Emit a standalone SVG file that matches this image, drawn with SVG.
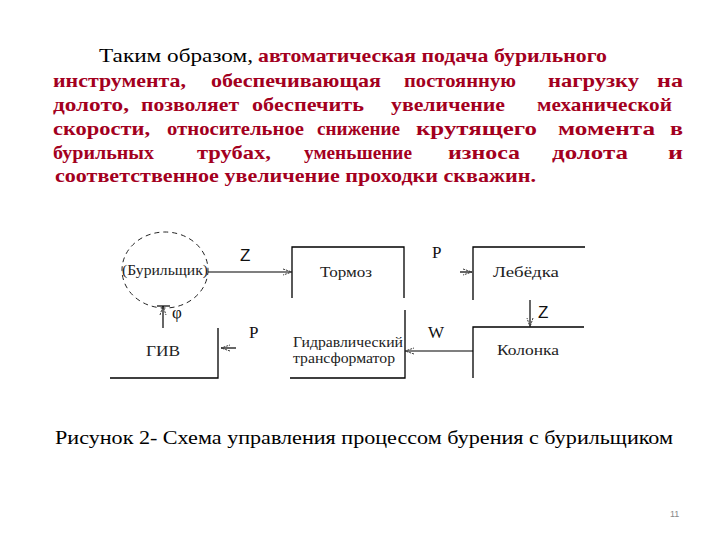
<svg xmlns="http://www.w3.org/2000/svg" width="720" height="540" viewBox="0 0 720 540">
<style>
.b{font-family:'Liberation Serif','Times New Roman',serif;font-weight:bold;font-size:19px;fill:#a3001e}
.n{font-family:'Liberation Serif','Times New Roman',serif;font-size:19px;fill:#000}
.lbl{font-family:'Liberation Serif','Times New Roman',serif;font-size:14px;fill:#222}
.sym{font-family:'Liberation Serif','Times New Roman',serif;font-size:17px;fill:#111}
.ss{font-family:'Liberation Sans',Arial,sans-serif;font-size:17px;fill:#111}
.ln{stroke:#000;stroke-width:1.3;fill:none}
.cn{stroke:#000;stroke-width:1.2;fill:none}
</style>
<defs>
<marker id="ah" markerWidth="10" markerHeight="8" refX="9" refY="4" orient="auto" markerUnits="userSpaceOnUse">
<path d="M0,1 L9,4 L0,7" fill="none" stroke="#333" stroke-width="1" stroke-dasharray="2,1"/>
</marker>
</defs>
<rect width="720" height="540" fill="#fff"/>

<g id="paragraph">
<text class="n" x="99" y="62" textLength="154" lengthAdjust="spacingAndGlyphs">Таким образом,</text>
<text class="b" x="258" y="62" textLength="349" lengthAdjust="spacingAndGlyphs">автоматическая подача бурильного</text>

<text class="b" x="53" y="87" textLength="133" lengthAdjust="spacingAndGlyphs">инструмента,</text>
<text class="b" x="211" y="87" textLength="170" lengthAdjust="spacingAndGlyphs">обеспечивающая</text>
<text class="b" x="404" y="87" textLength="112" lengthAdjust="spacingAndGlyphs">постоянную</text>
<text class="b" x="548" y="87" textLength="91" lengthAdjust="spacingAndGlyphs">нагрузку</text>
<text class="b" x="657" y="87" textLength="26" lengthAdjust="spacingAndGlyphs">на</text>

<text class="b" x="53" y="111" textLength="76" lengthAdjust="spacingAndGlyphs">долото,</text>
<text class="b" x="141" y="111" textLength="98" lengthAdjust="spacingAndGlyphs">позволяет</text>
<text class="b" x="252" y="111" textLength="112" lengthAdjust="spacingAndGlyphs">обеспечить</text>
<text class="b" x="391" y="111" textLength="114" lengthAdjust="spacingAndGlyphs">увеличение</text>
<text class="b" x="537" y="111" textLength="135" lengthAdjust="spacingAndGlyphs">механической</text>

<text class="b" x="53" y="135" textLength="97" lengthAdjust="spacingAndGlyphs">скорости,</text>
<text class="b" x="167" y="135" textLength="137" lengthAdjust="spacingAndGlyphs">относительное</text>
<text class="b" x="317" y="135" textLength="83" lengthAdjust="spacingAndGlyphs">снижение</text>
<text class="b" x="416" y="135" textLength="121" lengthAdjust="spacingAndGlyphs">крутящего</text>
<text class="b" x="558" y="135" textLength="97" lengthAdjust="spacingAndGlyphs">момента</text>
<text class="b" x="670" y="135" textLength="13" lengthAdjust="spacingAndGlyphs">в</text>

<text class="b" x="53" y="159" textLength="101" lengthAdjust="spacingAndGlyphs">бурильных</text>
<text class="b" x="197" y="159" textLength="74" lengthAdjust="spacingAndGlyphs">трубах,</text>
<text class="b" x="304" y="159" textLength="108" lengthAdjust="spacingAndGlyphs">уменьшение</text>
<text class="b" x="448" y="159" textLength="72" lengthAdjust="spacingAndGlyphs">износа</text>
<text class="b" x="552" y="159" textLength="76" lengthAdjust="spacingAndGlyphs">долота</text>
<text class="b" x="668" y="159" textLength="15" lengthAdjust="spacingAndGlyphs">и</text>

<text class="b" y="182" x="55" textLength="481" lengthAdjust="spacingAndGlyphs">соответственное увеличение проходки скважин.</text>
</g>

<g id="burilshchik">
<ellipse cx="165" cy="270" rx="43" ry="38" fill="none" stroke="#222" stroke-width="1" stroke-dasharray="5,4"/>
<text class="lbl" x="165" y="275" text-anchor="middle" textLength="86" lengthAdjust="spacingAndGlyphs">(Бурильщик)</text>
</g>

<g id="tormoz">
<path class="ln" d="M292,298 V247 H404 V298"/>
<text class="lbl" x="346" y="277" text-anchor="middle" textLength="52" lengthAdjust="spacingAndGlyphs">Тормоз</text>
</g>

<g id="lebedka">
<path class="ln" d="M473,300 V247 H585"/>
<text class="lbl" x="526" y="277" text-anchor="middle" textLength="66" lengthAdjust="spacingAndGlyphs">Лебёдка</text>
</g>

<g id="kolonka">
<path class="ln" d="M473,378 V327 H584"/>
<text class="lbl" x="528" y="355" text-anchor="middle" textLength="62" lengthAdjust="spacingAndGlyphs">Колонка</text>
</g>

<g id="transformer">
<path class="ln" d="M405,310 V378 H290"/>
<text class="lbl" x="293" y="347" textLength="110" lengthAdjust="spacingAndGlyphs">Гидравлический</text>
<text class="lbl" x="293" y="363" textLength="102" lengthAdjust="spacingAndGlyphs">трансформатор</text>
</g>

<g id="giv">
<path class="ln" d="M218,328 V378 H110"/>
<text class="lbl" x="163" y="356" text-anchor="middle" textLength="34" lengthAdjust="spacingAndGlyphs">ГИВ</text>
</g>

<g id="connectors">
<line class="cn" x1="208" y1="272" x2="292" y2="272" marker-end="url(#ah)"/>
<line class="cn" x1="460" y1="272" x2="472" y2="272" stroke="none" marker-end="url(#ah)"/>
<line class="cn" x1="530" y1="300" x2="530" y2="327" marker-end="url(#ah)"/>
<line class="cn" x1="473" y1="351" x2="405" y2="351" marker-end="url(#ah)"/>
<line class="cn" x1="236" y1="348" x2="221" y2="348" stroke="none" marker-end="url(#ah)"/>
<line class="cn" x1="163" y1="328" x2="163" y2="306" marker-end="url(#ah)"/>
<line class="cn" x1="157" y1="306" x2="170" y2="306"/>
<text class="ss" x="240" y="261">Z</text>
<text class="sym" x="432" y="258">P</text>
<text class="ss" x="538" y="318">Z</text>
<text class="sym" x="428" y="338">W</text>
<text class="sym" x="249" y="338">P</text>
<text class="sym" x="172" y="318">φ</text>
</g>

<text class="n" x="55" y="444" font-size="20" textLength="618" lengthAdjust="spacingAndGlyphs">Рисунок 2- Схема управления процессом бурения с бурильщиком</text>
<text x="670" y="517" font-family="'Liberation Sans',sans-serif" font-size="9" fill="#888">11</text>
</svg>
